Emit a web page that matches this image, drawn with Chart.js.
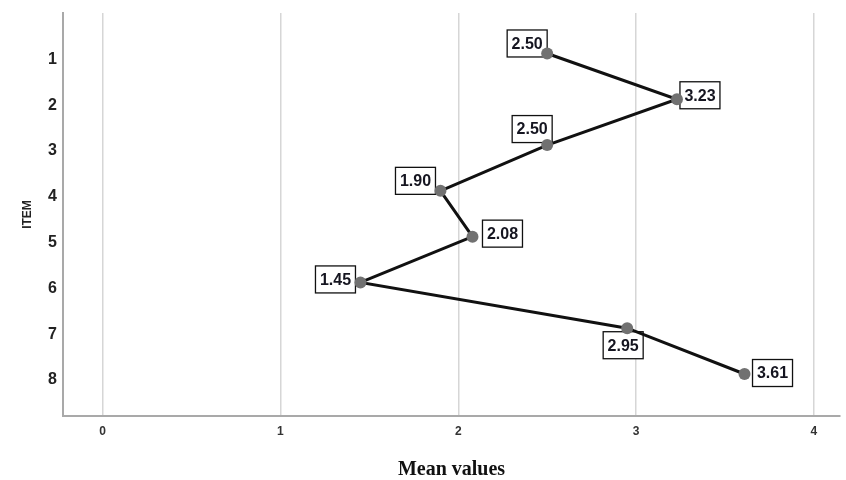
<!DOCTYPE html>
<html>
<head>
<meta charset="utf-8">
<script src="https://cdn.jsdelivr.net/npm/chart.js@4.4.1/dist/chart.umd.min.js"></script>
<style>
  html, body { margin: 0; padding: 0; background: #fff; }
  #wrap { width: 846px; height: 480px; }
</style>
</head>
<body>
<div id="wrap"><canvas id="meanChart" width="846" height="480"></canvas></div>
<script>
// --- DATA ---
const items = [1, 2, 3, 4, 5, 6, 7, 8];
const meanValues = [2.50, 3.23, 2.50, 1.90, 2.08, 1.45, 2.95, 3.61];
const xTicks = [0, 1, 2, 3, 4];

// label box offsets from each point (px), to place the value boxes like the original
const labelOffsets = [[-20, -10], [23, -4], [-15, -16], [-25, -10], [30, -3], [-25, -3], [-4, 17], [28, -1]];

// draws the boxed value labels under the line and points
const boxLabels = {
    id: 'boxLabels',
    beforeDatasetsDraw(chart) {
        const c = chart.ctx;
        const pts = chart.getDatasetMeta(0).data;
        c.save();
        c.font = 'bold 16px "Liberation Sans", Arial, sans-serif';
        c.textAlign = 'center';
        c.textBaseline = 'middle';
        pts.forEach((p, i) => {
            const cx = p.x + labelOffsets[i][0];
            const cy = p.y + labelOffsets[i][1];
            const w = 40, h = 27;
            c.fillStyle = '#fff';
            c.fillRect(cx - w / 2, cy - h / 2, w, h);
            c.strokeStyle = '#111';
            c.lineWidth = 1.3;
            c.strokeRect(cx - w / 2, cy - h / 2, w, h);
            c.fillStyle = '#151520';
            c.fillText(meanValues[i].toFixed(2), cx, cy + 1);
        });
        c.restore();
    }
};

const ctx = document.getElementById('meanChart').getContext('2d');
const meanChart = new Chart(ctx, {
    type: 'line',
    data: {
        datasets: [{
            data: meanValues.map((v, i) => ({ x: v, y: items[i] })),
            borderColor: '#111',
            borderWidth: 3,
            pointRadius: 6,
            pointBackgroundColor: '#717171',
            pointBorderWidth: 0,
            pointHoverRadius: 6,
            tension: 0
        }]
    },
    options: {
        responsive: false,
        animation: false,
        events: [],
        layout: { padding: { top: 13, right: 0, bottom: 0, left: 0 } },
        plugins: { legend: { display: false }, tooltip: { enabled: false } },
        scales: {
            x: {
                type: 'linear',
                min: -0.223,
                max: 4.147,
                afterBuildTicks: s => { s.ticks = xTicks.map(v => ({ value: v })); },
                afterFit: s => { s.height = 64; s.paddingLeft = 0; s.paddingRight = 0; },
                grid: { color: '#d6d6d6', lineWidth: 1.5, drawTicks: false },
                border: { color: '#a9a9a9', width: 2 },
                ticks: {
                    padding: 8,
                    color: '#333',
                    font: { family: '"Liberation Sans Narrow", "Arial Narrow", "Liberation Sans", sans-serif', size: 12, weight: 'bold' }
                },
                title: {
                    display: true,
                    text: 'Mean values',
                    color: '#111',
                    padding: { top: 0, bottom: 0 },
                    font: { family: '"Liberation Serif", "Times New Roman", serif', size: 20, weight: 'bold', lineHeight: 1 }
                }
            },
            y: {
                type: 'linear',
                reverse: true,
                min: 0.116,
                max: 8.917,
                afterBuildTicks: s => { s.ticks = items.map(v => ({ value: v })); },
                afterFit: s => { s.width = 63; s.paddingTop = 0; s.paddingBottom = 0; },
                grid: { display: false, drawTicks: false },
                border: { color: '#a9a9a9', width: 2 },
                ticks: {
                    padding: 6,
                    labelOffset: 6,
                    color: '#222',
                    font: { family: '"Liberation Sans", Arial, sans-serif', size: 16, weight: 'bold' }
                },
                title: {
                    display: true,
                    text: 'ITEM',
                    color: '#222',
                    padding: { top: 20, bottom: 0 },
                    font: { family: '"Liberation Sans", Arial, sans-serif', size: 12, weight: 'bold' }
                }
            }
        }
    },
    plugins: [boxLabels]
});
</script>
</body>
</html>
